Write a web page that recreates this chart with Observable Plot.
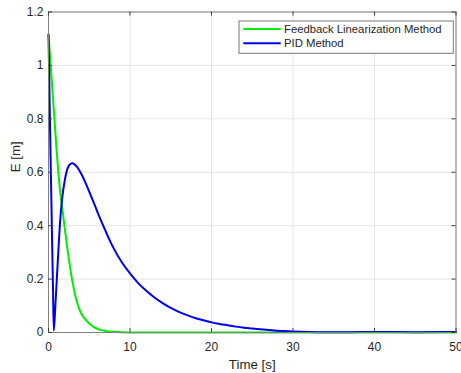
<!DOCTYPE html>
<html>
<head>
<meta charset="utf-8">
<script src="https://cdn.jsdelivr.net/npm/d3@7"></script>
<script src="https://cdn.jsdelivr.net/npm/@observablehq/plot@0.6"></script>
<style>
  html, body { margin: 0; padding: 0; background: white; overflow: hidden; }
  #chart svg { display: block; }
</style>
</head>
<body>
<div id="chart"></div>
<script>
// ---- Data ----
const seriesNames = ["Feedback Linearization Method", "PID Method"];
const seriesColors = ["#00ee00", "#0000f0"];

const fbTime = [0, 0.25, 0.5, 0.75, 1.0, 1.25, 1.5, 1.75, 2.0, 2.25, 2.5, 2.75, 3.0, 3.25, 3.5, 3.75, 4.0, 4.5, 5.0, 5.5, 6.0, 6.5, 7.0, 8.0, 9.0, 10, 12, 20, 30, 40, 50];
const fbError = [1.115, 1.005, 0.9, 0.79, 0.68, 0.585, 0.51, 0.45, 0.39, 0.33, 0.275, 0.225, 0.18, 0.143, 0.113, 0.09, 0.072, 0.05, 0.034, 0.022, 0.014, 0.009, 0.006, 0.0025, 0.001, 0.0004, 0, 0, 0, 0, 0];

const pidTime = [0, 0.15, 0.3, 0.45, 0.55, 0.65, 0.85, 1.02, 1.2, 1.39, 1.67, 2.0, 2.2, 2.5, 2.9, 3.5, 4.0, 4.5, 5.0, 5.5, 6.0, 6.5, 7.0, 7.5, 8, 9, 10, 11, 12, 13, 14, 15, 16, 17, 18, 19, 20, 21, 22, 23, 24, 25, 26, 27, 28, 29, 30, 32, 34, 37, 40, 45, 50];
const pidError = [1.115, 0.84, 0.58, 0.33, 0.17, 0.007, 0.105, 0.2, 0.3, 0.4, 0.5, 0.57, 0.6, 0.625, 0.634, 0.62, 0.595, 0.563, 0.527, 0.49, 0.452, 0.415, 0.38, 0.346, 0.315, 0.263, 0.221, 0.185, 0.156, 0.131, 0.11, 0.092, 0.077, 0.065, 0.054, 0.046, 0.038, 0.032, 0.027, 0.022, 0.018, 0.015, 0.012, 0.009, 0.007, 0.0055, 0.004, 0.002, 0.001, 0.001, 0.002, 0.001, 0.002];

const xTicks = [0, 10, 20, 30, 40, 50];
const yTicks = [0, 0.2, 0.4, 0.6, 0.8, 1, 1.2];
const yTickLabels = ["0", "0.2", "0.4", "0.6", "0.8", "1", "1.2"];
const xLabel = "Time [s]";
const yLabel = "E [m]";

// ---- Build tables ----
const fbData = fbTime.map((t, i) => ({t, e: fbError[i]}));
const pidData = pidTime.map((t, i) => ({t, e: pidError[i]}));

const W = 461, H = 373;
const mL = 48, mR = 5.5, mT = 11.5, mB = 41;
const innerW = W - mL - mR, innerH = H - mT - mB;
const tickLen = 4;
const textColor = "#262626";
const fontFam = "'Liberation Sans', Arial, sans-serif";

const chart = Plot.plot({
  width: W,
  height: H,
  marginLeft: mL,
  marginRight: mR,
  marginTop: mT,
  marginBottom: mB,
  x: {domain: [0, 50]},
  y: {domain: [0, 1.2]},
  style: {
    fontFamily: fontFam,
    fontSize: "12px",
    color: textColor,
    background: "white",
    overflow: "hidden"
  },
  marks: [
    Plot.gridX(xTicks, {stroke: "#e4e4e4", strokeOpacity: 1}),
    Plot.gridY(yTicks, {stroke: "#e4e4e4", strokeOpacity: 1}),
    Plot.line(fbData, {x: "t", y: "e", stroke: seriesColors[0], strokeWidth: 2, curve: "monotone-x"}),
    Plot.line(pidData, {x: "t", y: "e", stroke: seriesColors[1], strokeWidth: 2, curve: "monotone-x"}),
    Plot.frame({stroke: "#808080"}),
    Plot.ruleX(xTicks, {x: d => d, insetTop: innerH - tickLen, stroke: "#404040"}),
    Plot.ruleX(xTicks, {x: d => d, insetBottom: innerH - tickLen, stroke: "#404040"}),
    Plot.ruleY(yTicks, {y: d => d, insetRight: innerW - tickLen, stroke: "#404040"}),
    Plot.ruleY(yTicks, {y: d => d, insetLeft: innerW - tickLen, stroke: "#404040"}),
    Plot.axisX(xTicks, {tickSize: 0, tickPadding: 10, label: null, fontSize: 12}),
    Plot.axisY(yTicks, {tickSize: 0, tickPadding: 5, label: null, fontSize: 12,
      tickFormat: d => yTickLabels[yTicks.indexOf(d)]}),
    Plot.text([xLabel], {frameAnchor: "bottom", dy: 32, lineAnchor: "middle", text: d => d, fontSize: 13.3, fill: textColor}),
    Plot.text([yLabel], {frameAnchor: "left", dx: -32.5, rotate: -90, lineAnchor: "middle", text: d => d, fontSize: 13.3, fill: textColor})
  ]
});

document.getElementById("chart").appendChild(chart);

// ---- Legend (inside plot, top-right) ----
const svg = d3.select(chart);
const lg = svg.append("g")
  .attr("font-family", fontFam)
  .attr("text-anchor", "start");
const box = {x: 239, y: 21, w: 214.3, h: 32.3};
lg.append("rect")
  .attr("x", box.x).attr("y", box.y).attr("width", box.w).attr("height", box.h)
  .attr("fill", "white").attr("stroke", "#777777").attr("stroke-width", 1);
const rowY = [29, 43.3];
seriesNames.forEach((name, i) => {
  lg.append("line")
    .attr("x1", 243.3).attr("x2", 280.7)
    .attr("y1", rowY[i]).attr("y2", rowY[i])
    .attr("stroke", seriesColors[i]).attr("stroke-width", 2);
  lg.append("text")
    .attr("x", 284).attr("y", rowY[i])
    .attr("dy", "0.35em")
    .attr("text-anchor", "start")
    .attr("font-size", 11.3)
    .attr("fill", textColor)
    .text(name);
});
</script>
</body>
</html>
